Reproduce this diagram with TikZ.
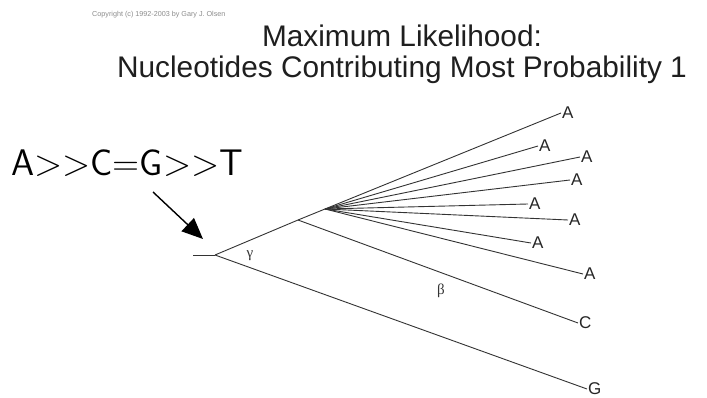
\documentclass[tikz,border=0pt]{standalone}
\usepackage{fontspec}
\setmainfont{Liberation Sans}
\newfontfamily\greekfont{Liberation Serif}
\usetikzlibrary{arrows.meta}
\begin{document}
\begin{tikzpicture}[x=1pt,y=-1pt,
  branch/.style={draw=black!80,line width=0.9pt},
  leaf/.style={anchor=west,inner sep=1pt,font=\fontsize{17}{17}\selectfont,text=black!85},
  titletext/.style={font=\fontsize{29.8}{29.8}\selectfont,text=black!88,inner sep=0pt,anchor=base},
  greeklabel/.style={font=\greekfont\fontsize{15}{15}\selectfont,text=black!80,inner sep=0pt}]
\useasboundingbox (0,0) rectangle (707,398);
\fill[white] (0,0) rectangle (707,398);
% copyright
\node[anchor=base west,inner sep=0pt,font=\fontsize{7.2}{7.2}\selectfont,text=black!45] (copy) at (92,17) {Copyright (c) 1992-2003 by Gary J. Olsen};
% title
\node[titletext] (t1) at (402,47) {Maximum Likelihood:};
\node[titletext] (t2) at (402,78) {Nucleotides Contributing Most Probability 1};
% ordering text
\node[anchor=base west,inner sep=0pt,font=\sffamily\fontsize{37}{37}\selectfont] (order) at (11,176) {A>{}>C=G>{}>T};
\coordinate (arrtail) at (153,192);
\coordinate (arrtip) at (203,239);
\draw[line width=1.4pt,-{Triangle[length=21pt,width=18pt]}] (arrtail) -- (arrtip);
% tree nodes
\coordinate (stub) at (193,255);
\coordinate (root) at (215,255);
\coordinate (nb) at (298,220);
\coordinate (nf) at (325,209);
% leaf labels
\node[leaf] (a1) at (561,113) {A};
\node[leaf] (a2) at (538,146) {A};
\node[leaf] (a3) at (580,157) {A};
\node[leaf] (a4) at (570,180) {A};
\node[leaf] (a5) at (528,204) {A};
\node[leaf] (a6) at (568,220) {A};
\node[leaf] (a7) at (531,243) {A};
\node[leaf] (a8) at (583,274) {A};
\node[leaf] (c) at (578,323) {C};
\node[leaf] (g) at (587,389) {G};
% branches
\draw[branch] (stub) -- (root);
\draw[branch] (root) -- (nb) -- (nf);
\draw[branch] (root) -- (g.west);
\draw[branch] (nb) -- (c.west);
\foreach \n in {a1,a2,a3,a4,a5,a6,a7,a8}
  \draw[branch] (nf) -- (\n.west);
% branch labels
\node[greeklabel] (gamma) at (250,256) {γ};
\node[greeklabel] (beta) at (441,291) {β};
\end{tikzpicture}
\end{document}
